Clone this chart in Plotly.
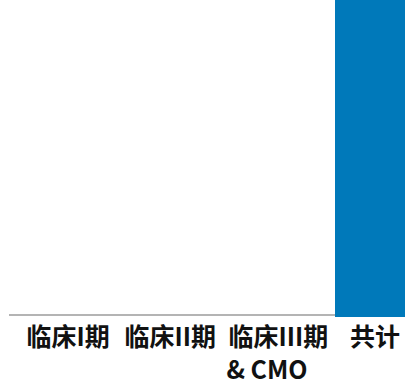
import plotly.graph_objects as go

# Trial phases along the x axis and the bar values for each
categories = ["临床I期", "临床II期", "\u00a0\u00a0临床III期<br>& CMO\u00a0\u00a0", "共计"]
values = [0, 0, 0, 100]
positions = [0, 1, 2, 3]

bar_color = "#0079BA"
axis_color = "#B4B4B4"

fig = go.Figure(
    go.Bar(
        x=positions,
        y=values,
        width=0.78,
        marker=dict(color=bar_color, line=dict(width=0)),
        hoverinfo="skip",
    )
)

# Baseline drawn beneath the bars so the total bar covers it
fig.add_shape(
    type="line",
    xref="paper", yref="paper",
    x0=0, x1=1, y0=0.006, y1=0.006,
    line=dict(color=axis_color, width=2),
    layer="below",
)

fig.update_layout(
    width=405,
    height=385,
    margin=dict(l=9, r=0, t=0, b=68),
    paper_bgcolor="white",
    plot_bgcolor="white",
    showlegend=False,
    bargap=0,
    xaxis=dict(
        range=[-0.577, 3.293],
        tickmode="array",
        tickvals=positions,
        ticktext=categories,
        tickangle=0,
        automargin=False,
        showgrid=False,
        zeroline=False,
        showline=False,
        ticks="",
        ticklabelstandoff=3,
        tickfont=dict(family="Noto Sans CJK SC", size=25, color="#111111", weight="bold"),
        fixedrange=True,
    ),
    yaxis=dict(
        range=[0, 100],
        visible=False,
        showgrid=False,
        zeroline=False,
        fixedrange=True,
    ),
)

fig.write_html("out.html")
